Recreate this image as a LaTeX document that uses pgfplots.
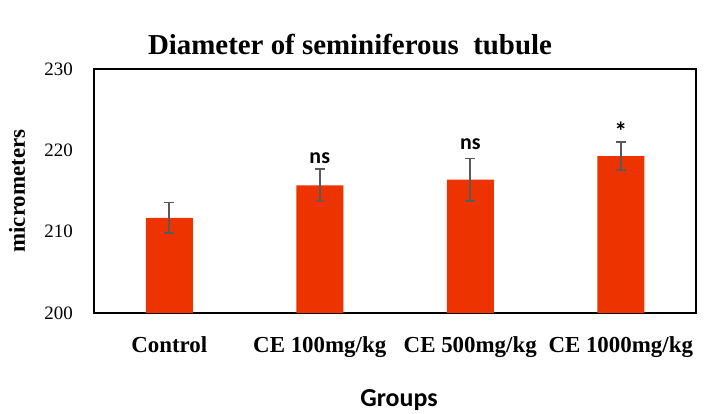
\documentclass[border=0pt]{standalone}
\usepackage{pgfplots}
\pgfplotsset{compat=1.18}
\usepackage{fontspec}
\setmainfont{Liberation Serif}
\newfontfamily\carlito{Carlito}
\definecolor{barred}{RGB}{236,51,0}
\definecolor{errgray}{RGB}{90,90,90}
\begin{document}
\begin{tikzpicture}
\path[use as bounding box] (-94bp,-101bp) rectangle (610bp,313bp);
\begin{axis}[
  at={(0,0)}, anchor=south west,
  scale only axis, width=602bp, height=244bp,
  xmin=-0.5, xmax=3.5, ymin=200, ymax=230,
  ytick={200,210,220,230},
  xtick={0,1,2,3},
  xticklabels={Control, CE 100mg/kg, CE 500mg/kg, CE 1000mg/kg},
  major tick length=0,
  axis line style={line width=1.5bp},
  yticklabel style={font=\fontsize{19}{22}\selectfont, anchor=east, inner xsep=0pt, xshift=-21bp},
  xticklabel style={font=\fontsize{23}{27}\selectfont\bfseries, anchor=base, yshift=-39bp},
  /pgf/number format/assume math mode=true,
  clip=false,
]
\addplot[ybar, bar width=47bp, fill=barred, draw=none,
  error bars/.cd, y dir=both, y explicit,
  error bar style={line width=1.6bp, errgray},
  error mark options={line width=1.6bp, errgray, mark size=5bp, rotate=90}]
  coordinates {
  (0,211.7) +- (0,1.9)
  (1,215.7) +- (0,2.0)
  (2,216.4) +- (0,2.6)
  (3,219.3) +- (0,1.7)
  };
\node[font=\carlito\fontsize{22}{26}\selectfont\bfseries] at (axis cs:1,219.0) {ns};
\node[font=\carlito\fontsize{22}{26}\selectfont\bfseries] at (axis cs:2,220.7) {ns};
\node[font=\carlito\fontsize{26}{30}\selectfont\bfseries] at (axis cs:3,222.3) {*};
\end{axis}
\node[rotate=90, font=\fontsize{23}{27}\selectfont\bfseries] at (-77bp,122bp) {micrometers};
\node[font=\fontsize{29}{34}\selectfont\bfseries] at (256bp,268bp) {Diameter of seminiferous\ \ tubule};
\node[font=\carlito\fontsize{26}{30}\selectfont\bfseries] at (305bp,-87bp) {Groups};
\end{tikzpicture}
\end{document}
